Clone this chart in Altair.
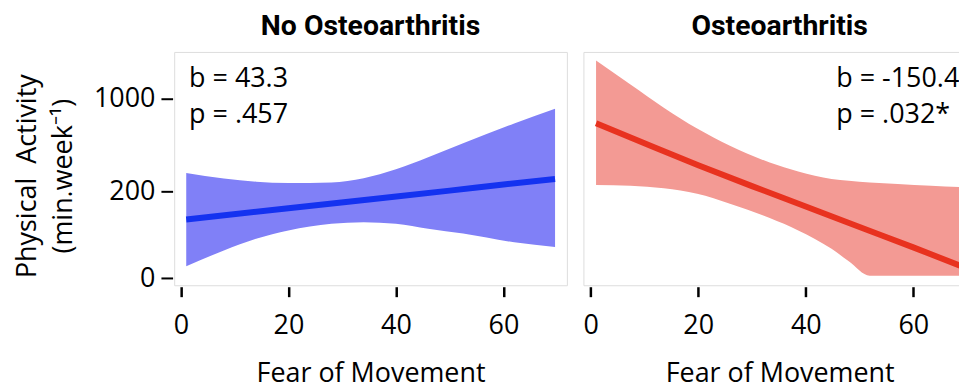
import altair as alt
import pandas as pd

# ---- data (values in min.week^-1) ----
no_band_x = [1, 8, 14, 20, 28, 34, 40, 46, 52.5, 62, 69.6]
no_band_hi = [286, 258, 242, 236, 239, 259, 306, 380, 483, 673, 854]
no_band_lo = [15, 39, 61, 79, 95, 99, 95, 83, 72, 54, 45]
no_line_x = [1, 20, 35, 50, 60, 69.6]
no_line_y = [106, 139, 169, 203, 229, 255]

oa_band_x = [1, 7.4, 13.6, 19.8, 25.9, 33.3, 38.6, 44.8, 48, 51.9, 57.1, 63.3, 69.8]
oa_band_hi = [1807, 1251, 868, 618, 463, 346, 293, 255, 247, 239, 232, 224, 217]
oa_band_lo = [227, 224, 213, 190, 154, 110, 79, 42, 22, 3, 3, 3, 3]
oa_line_x = [1, 10, 20, 30, 40, 50, 60, 69.8]
oa_line_y = [675, 483, 329, 222, 145, 87, 44.5, 12.6]

x_ticks = [0, 20, 40, 60]
y_ticks = [0, 200, 1000]

titles = ["No Osteoarthritis", "Osteoarthritis"]
ann_no = ["b = 43.3", "p = .457"]
ann_oa = ["b = -150.4", "p = .032*"]

FONT = "Open Sans"
FS = 27
H = 234.3

yscale = alt.Scale(type="symlog", constant=78, domain=[-8.4, 2059], nice=False, zero=False)


def xaxis(title_x):
    return alt.Axis(values=x_ticks, title="Fear of Movement", domain=False, grid=False,
                    tickSize=10, tickWidth=2.5, tickColor="black", offset=1.5,
                    labelFont=FONT, labelFontSize=FS, labelColor="black",
                    labelBaseline="alphabetic", labelPadding=37, labelFlush=False,
                    titleFont=FONT, titleFontSize=FS, titleFontWeight="normal",
                    titleColor="black", titleBaseline="alphabetic", titleAlign="center",
                    titleY=95.4, titleX=title_x)


def yaxis(show):
    if not show:
        return None
    return alt.Axis(values=y_ticks, format="d",
                    title=["Physical \u00a0Activity", "(min.week\u207b\u00b9)"],
                    domain=False, grid=False, tickSize=11.7, tickWidth=2, tickColor="black",
                    offset=1.6, labelFont=FONT, labelFontSize=FS, labelColor="black",
                    labelPadding=6, titleFont=FONT, titleFontSize=FS, titleFontWeight="normal",
                    titleColor="black", titleAngle=270, titleAlign="center",
                    titleBaseline="alphabetic", titleX=-137.7, titleY=124.3, titleLineHeight=36)


def panel(bx, lo, hi, lx, ly, band_col, line_col, domain, width, show_y, title, title_x, ann, ann_x):
    band_df = pd.DataFrame({"x": bx, "lo": lo, "hi": hi})
    line_df = pd.DataFrame({"x": lx, "y": ly})
    xs = alt.Scale(domain=domain, nice=False, zero=False)
    band = alt.Chart(band_df).mark_area(color=band_col, opacity=1, interpolate="monotone", clip=True).encode(
        x=alt.X("x:Q", scale=xs, axis=xaxis(title_x)),
        y=alt.Y("lo:Q", scale=yscale, axis=yaxis(show_y)),
        y2="hi:Q",
    )
    line = alt.Chart(line_df).mark_line(color=line_col, strokeWidth=6, interpolate="monotone", clip=True).encode(
        x=alt.X("x:Q", scale=xs, axis=xaxis(title_x)),
        y=alt.Y("y:Q", scale=yscale, axis=yaxis(show_y)),
    )
    layers = [band, line]
    for i, s in enumerate(ann):
        layers.append(
            alt.Chart(pd.DataFrame({"t": [s]})).mark_text(
                align="left", baseline="alphabetic", font=FONT, fontSize=FS, color="black",
            ).encode(x=alt.value(ann_x), y=alt.value(35 + 36.6 * i), text="t:N")
        )
    layers.append(
        alt.Chart(pd.DataFrame({"t": [title]})).mark_text(
            align="center", baseline="alphabetic", font="Roboto", fontSize=28.5,
            fontWeight="bold", color="black",
        ).encode(x=alt.value(title_x), y=alt.value(-17.4), text="t:N")
    )
    return alt.layer(*layers).properties(width=width, height=H)


left = panel(no_band_x, no_band_lo, no_band_hi, no_line_x, no_line_y,
             "#8080f7", "#1432f0", [-1.24, 71.8], 394.4, True, titles[0], 197.2, ann_no, 15)
right = panel(oa_band_x, oa_band_lo, oa_band_hi, oa_line_x, oa_line_y,
              "#f39a94", "#e8321f", [-1.35, 69.87], 384.6, False, titles[1], 197.1, ann_oa, 254)

chart = alt.hconcat(left, right, spacing=15).properties(
    padding={"left": 4.9, "top": 2.3, "right": -8.8, "bottom": 0}
).configure_view(stroke="#8c8c8c", strokeWidth=1).configure(background="white")

chart.save("out.html", embed_options={"renderer": "svg", "actions": False})
